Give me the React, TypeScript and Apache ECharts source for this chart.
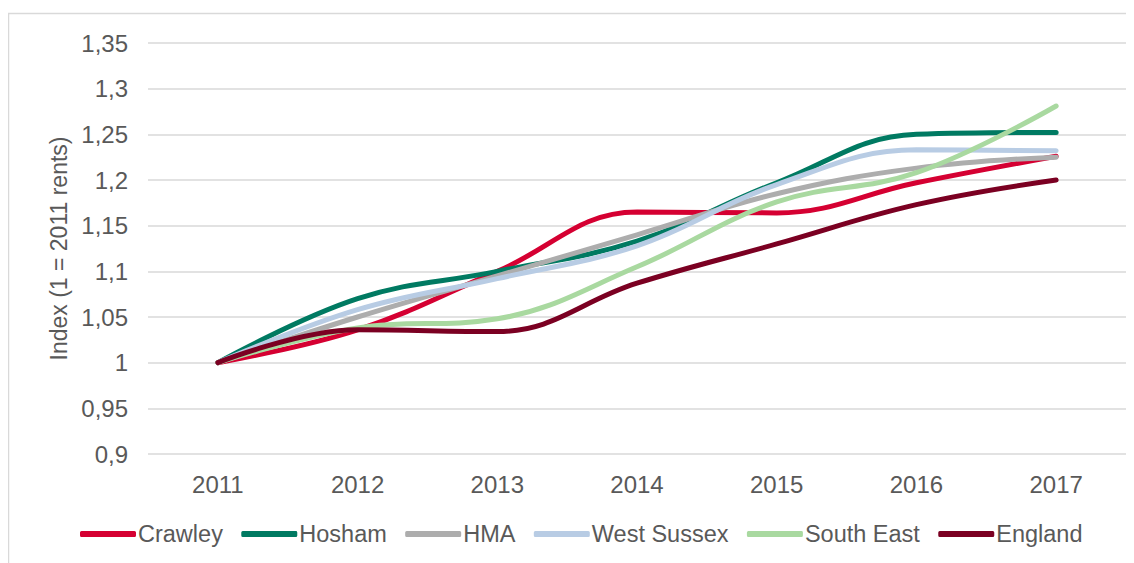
import React, { useEffect, useRef } from "react";
import * as echarts from "echarts";

const years = ["2011", "2012", "2013", "2014", "2015", "2016", "2017"];
const crawley = [1, 1.036, 1.1, 1.165, 1.164, 1.197, 1.226];
const hosham = [1, 1.07, 1.1, 1.133, 1.197, 1.25, 1.252];
const hma = [1, 1.05, 1.095, 1.14, 1.185, 1.213, 1.225];
const westSussex = [1, 1.058, 1.092, 1.128, 1.195, 1.233, 1.232];
const southEast = [1, 1.038, 1.048, 1.105, 1.176, 1.208, 1.281];
const england = [1, 1.036, 1.034, 1.087, 1.13, 1.173, 1.2];

const seriesNames = ["Crawley", "Hosham", "HMA", "West Sussex", "South East", "England"];
const seriesData = [crawley, hosham, hma, westSussex, southEast, england];
const colors = ["#D50032", "#007A62", "#ADADAD", "#B8CCE4", "#A9D9A0", "#7B0022"];

const FONT = "'Liberation Sans', Arial, sans-serif";

export default function App() {
  const ref = useRef<HTMLDivElement>(null);
  useEffect(() => {
    if (!ref.current) return;
    const chart = echarts.init(ref.current, null, { renderer: "svg" });
    chart.setOption({
      animation: false,
      textStyle: { fontFamily: FONT },
      color: colors,
      graphic: [
        {
          type: "rect",
          shape: { x: 0.5, y: 5.5, width: 1200, height: 700 },
          style: { fill: "none", stroke: "#D9D9D9", lineWidth: 1.5 },
          silent: true,
        },
      ],
      grid: { left: 140, right: 8, top: 35, bottom: 109, containLabel: false },
      xAxis: {
        type: "category",
        data: years,
        boundaryGap: true,
        axisLine: { show: false },
        axisTick: { show: false },
        axisLabel: { color: "#595959", fontSize: 24, margin: 18, fontFamily: FONT },
      },
      yAxis: {
        type: "value",
        min: 0.9,
        max: 1.35,
        interval: 0.05,
        name: "Index (1 = 2011 rents)",
        nameLocation: "middle",
        nameRotate: 90,
        nameGap: 75,
        nameTextStyle: { color: "#595959", fontSize: 23, fontFamily: FONT },
        axisLine: { show: false },
        axisTick: { show: false },
        splitLine: { lineStyle: { color: "#D9D9D9", width: 1.5 } },
        axisLabel: {
          color: "#595959",
          fontSize: 24,
          margin: 20,
          fontFamily: FONT,
          formatter: (v: number) => String(Math.round(v * 100) / 100).replace(".", ","),
        },
      },
      legend: {
        bottom: 12,
        left: 67,
        itemWidth: 56,
        itemHeight: 6,
        itemGap: 18.4,
        icon: "roundRect",
        textStyle: { color: "#595959", fontSize: 23.5, fontFamily: FONT, padding: [0, 0, 0, -3] },
        data: seriesNames,
      },
      series: seriesNames.map((name, i) => ({
        name,
        type: "line",
        data: seriesData[i],
        smooth: 0.4,
        symbol: "none",
        lineStyle: { width: 5, color: colors[i], cap: "round" },
        itemStyle: { color: colors[i] },
      })),
    });
    return () => chart.dispose();
  }, []);
  return <div ref={ref} style={{ width: 1126, height: 555 }} />;
}
